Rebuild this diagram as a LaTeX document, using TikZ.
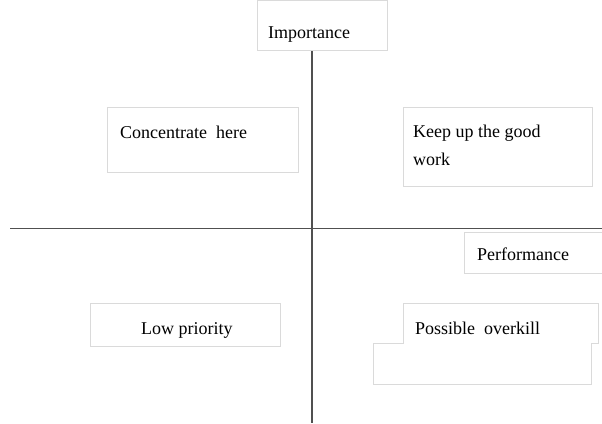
\documentclass[tikz,border=0pt]{standalone}
\usepackage{fontspec}
\setmainfont{Liberation Serif}
\definecolor{boxgray}{RGB}{218,218,218}
\definecolor{axisgray}{RGB}{80,80,80}
\begin{document}
\begin{tikzpicture}[x=1pt,y=-1pt,
  box/.style={draw=boxgray, line width=0.8pt, fill=white, inner sep=0pt, anchor=north west},
  axis/.style={draw=axisgray, line width=1.6pt},
  lbl/.style={font=\fontsize{18}{28}\selectfont, inner sep=0pt, anchor=base west, align=left}]
\useasboundingbox[fill=white] (0,0) rectangle (602,423);

% axes
\coordinate (vtop) at (312,51);
\coordinate (vbot) at (312,423);
\coordinate (hleft) at (10,228.5);
\coordinate (hright) at (602,228.5);
\draw[axis] (vtop) -- (vbot);
\draw[axis] (hleft) -- (hright);

% boxes
\node[box, minimum width=130pt, minimum height=50pt] (impbox) at (257,0) {};
\node[box, minimum width=191pt, minimum height=65pt] (concbox) at (107,107) {};
\node[box, minimum width=189pt, minimum height=79pt] (keepbox) at (403,107) {};
\node[box, minimum width=140pt, minimum height=41pt] (perfbox) at (464,232) {};
\node[box, minimum width=190pt, minimum height=43pt] (lowbox) at (90,303) {};
\draw[draw=boxgray, line width=0.8pt, fill=white]
  (403,303) -- (598,303) -- (598,343) -- (591,343) -- (591,384)
  -- (373,384) -- (373,343) -- (403,343) -- cycle;

% labels (a two-line node sits on the baseline of its last line)
\node[lbl] (imp) at (268,38) {Importance};
\node[lbl] (conc) at (120,138) {Concentrate\ \ here};
\node[lbl] (keep) at (413,165) {Keep up the good\\work};
\node[lbl] (perf) at (477,260) {Performance};
\node[lbl] (low) at (141,334) {Low priority};
\node[lbl] (over) at (415,334) {Possible\ \ overkill};
\end{tikzpicture}
\end{document}
